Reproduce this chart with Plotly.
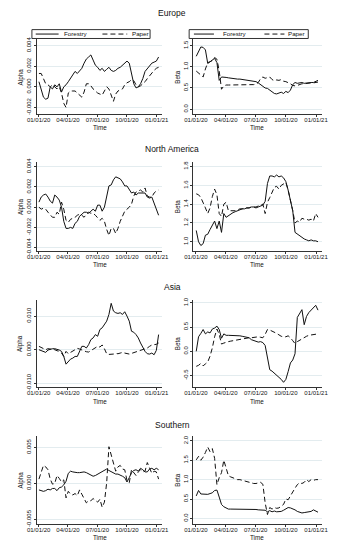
import pandas as pd
import plotly.graph_objects as go

# ---------------- data (weekly readings, 2020-01-02 .. 2021-01-07) ----------------
dates = pd.date_range("2020-01-02", periods=54, freq="7D")

regions = ["Europe", "North America", "Asia", "Southern"]
series_names = ["Forestry", "Paper"]

eu_alpha_forestry = [0.0005, -0.0003, -0.0010, -0.0012, -0.0011, 0.0000, -0.0002, 0.0002, 0.0000, 0.0003,
                     -0.0005, 0.0000, 0.0002, 0.0005, 0.0008, 0.0011, 0.0015, 0.0013, 0.0016, 0.0018,
                     0.0023, 0.0027, 0.0029, 0.0031, 0.0026, 0.0021, 0.0019, 0.0016, 0.0018, 0.0015,
                     0.0017, 0.0019, 0.0016, 0.0015, 0.0016, 0.0018, 0.0019, 0.0021, 0.0023, 0.0025,
                     0.0023, 0.0013, 0.0003, -0.0001, 0.0000, 0.0003, 0.0008, 0.0015, 0.0018, 0.0021,
                     0.0023, 0.0024, 0.0025, 0.0029]
eu_alpha_paper = [0.0013, 0.0013, 0.0008, 0.0003, 0.0002, 0.0000, 0.0002, 0.0000, -0.0002, 0.0000,
                  -0.0006, -0.0016, -0.0020, -0.0006, -0.0004, -0.0004, -0.0004, -0.0006, -0.0008, -0.0010,
                  -0.0005, 0.0003, 0.0003, 0.0001, -0.0002, -0.0004, -0.0006, -0.0007, -0.0008, -0.0004,
                  0.0000, -0.0002, -0.0008, -0.0014, -0.0007, -0.0004, -0.0003, -0.0002, 0.0002, 0.0004,
                  0.0005, 0.0007, 0.0006, 0.0002, 0.0000, 0.0001, 0.0003, 0.0005, 0.0008, 0.0011,
                  0.0013, 0.0016, 0.0018, 0.0019]
eu_beta_forestry = [1.25, 1.35, 1.47, 1.46, 1.40, 1.08, 1.12, 1.15, 1.20, 1.10,
                    0.68, 0.76, 0.76, 0.75, 0.74, 0.73, 0.72, 0.72, 0.71, 0.71,
                    0.70, 0.70, 0.69, 0.68, 0.67, 0.66, 0.65, 0.62, 0.58, 0.53,
                    0.50, 0.49, 0.45, 0.40, 0.37, 0.36, 0.38, 0.40, 0.37, 0.42,
                    0.39, 0.45, 0.58, 0.63, 0.61, 0.62, 0.63, 0.61, 0.62, 0.63,
                    0.63, 0.63, 0.65, 0.68]
eu_beta_paper = [0.90, 0.85, 0.80, 0.76, 0.95, 1.10, 1.12, 1.15, 1.22, 1.18,
                 0.90, 0.47, 0.55, 0.57, 0.57, 0.57, 0.57, 0.57, 0.57, 0.57,
                 0.57, 0.57, 0.57, 0.57, 0.58, 0.58, 0.59, 0.63, 0.72, 0.76,
                 0.73, 0.74, 0.76, 0.70, 0.67, 0.69, 0.68, 0.70, 0.66, 0.65,
                 0.63, 0.60, 0.56, 0.55, 0.56, 0.58, 0.60, 0.60, 0.61, 0.62,
                 0.62, 0.62, 0.63, 0.64]

na_alpha_forestry = [0.0005, 0.0010, 0.0012, 0.0013, 0.0010, 0.0006, 0.0004, 0.0012, 0.0010, 0.0007,
                     0.0000, -0.0014, -0.0021, -0.0021, -0.0020, -0.0021, -0.0016, -0.0014, -0.0009, -0.0007,
                     -0.0005, -0.0005, -0.0006, -0.0004, -0.0002, -0.0004, 0.0002, 0.0002, -0.0004, 0.0000,
                     0.0011, 0.0021, 0.0022, 0.0027, 0.0030, 0.0029, 0.0028, 0.0025, 0.0021, 0.0021,
                     0.0018, 0.0014, 0.0015, 0.0012, 0.0014, 0.0014, 0.0014, 0.0014, 0.0010, 0.0009,
                     0.0010, 0.0004, -0.0002, -0.0008]
na_alpha_paper = [0.0000, -0.0002, -0.0001, -0.0002, -0.0005, -0.0008, -0.0010, -0.0010, -0.0005, -0.0007,
                  0.0005, -0.0002, -0.0013, -0.0015, -0.0012, -0.0011, -0.0010, -0.0008, -0.0007, -0.0008,
                  -0.0010, -0.0007, -0.0005, -0.0006, -0.0006, -0.0008, -0.0010, -0.0013, -0.0011, -0.0014,
                  -0.0022, -0.0028, -0.0021, -0.0021, -0.0026, -0.0021, -0.0014, -0.0008, -0.0004, -0.0002,
                  0.0000, 0.0003, 0.0011, 0.0015, 0.0016, 0.0017, 0.0015, 0.0019, 0.0011, 0.0010,
                  0.0010, 0.0014, 0.0016, 0.0017]
na_beta_forestry = [1.12, 1.00, 0.96, 0.98, 1.07, 1.08, 1.13, 1.17, 1.22, 1.14,
                    1.22, 1.10, 1.30, 1.26, 1.28, 1.30, 1.31, 1.32, 1.33, 1.34,
                    1.35, 1.35, 1.36, 1.36, 1.37, 1.37, 1.36, 1.37, 1.38, 1.39,
                    1.43, 1.62, 1.70, 1.70, 1.69, 1.71, 1.69, 1.70, 1.68, 1.64,
                    1.55, 1.45, 1.33, 1.10, 1.08, 1.06, 1.04, 1.03, 1.02, 1.01,
                    1.02, 1.01, 1.01, 1.00]
na_beta_paper = [1.51, 1.50, 1.47, 1.42, 1.36, 1.30, 1.36, 1.48, 1.56, 1.50,
                 1.30, 1.27, 1.40, 1.42, 1.33, 1.33, 1.33, 1.33, 1.34, 1.35,
                 1.35, 1.36, 1.36, 1.36, 1.37, 1.37, 1.37, 1.38, 1.39, 1.40,
                 1.30, 1.42, 1.47, 1.52, 1.58, 1.59, 1.56, 1.60, 1.62, 1.63,
                 1.55, 1.45, 1.33, 1.20, 1.22, 1.21, 1.25, 1.24, 1.24, 1.23,
                 1.24, 1.22, 1.30, 1.26]

as_alpha_forestry = [0.0000, -0.0003, -0.0006, -0.0008, -0.0001, 0.0002, 0.0003, 0.0003, 0.0002, -0.0001,
                     -0.0005, -0.0020, -0.0043, -0.0035, -0.0028, -0.0025, -0.0020, -0.0020, -0.0005, 0.0010,
                     0.0010, 0.0005, 0.0015, 0.0030, 0.0035, 0.0045, 0.0040, 0.0060, 0.0065, 0.0075,
                     0.0085, 0.0105, 0.0138, 0.0115, 0.0110, 0.0108, 0.0110, 0.0105, 0.0113, 0.0100,
                     0.0085, 0.0055, 0.0052, 0.0045, 0.0035, 0.0020, 0.0005, -0.0005, -0.0012, -0.0013,
                     -0.0010, -0.0015, -0.0002, 0.0045]
as_alpha_paper = [0.0010, 0.0007, 0.0005, 0.0000, 0.0003, 0.0002, 0.0002, 0.0000, -0.0003, -0.0005,
                  -0.0010, -0.0020, -0.0005, -0.0012, -0.0008, -0.0004, -0.0001, 0.0004, 0.0002, -0.0001,
                  -0.0004, -0.0006, -0.0007, -0.0003, 0.0000, 0.0006, 0.0010, 0.0008, 0.0014, 0.0003,
                  -0.0012, -0.0014, -0.0014, -0.0013, -0.0011, -0.0012, -0.0010, -0.0008, -0.0010, -0.0012,
                  -0.0013, -0.0011, -0.0009, -0.0006, -0.0005, -0.0003, -0.0001, 0.0003, 0.0005, 0.0010,
                  0.0014, 0.0015, 0.0016, 0.0020]
as_beta_forestry = [0.00, 0.30, 0.37, 0.45, 0.36, 0.40, 0.38, 0.46, 0.48, 0.52,
                    0.45, 0.27, 0.36, 0.33, 0.33, 0.33, 0.33, 0.32, 0.32, 0.32,
                    0.31, 0.30, 0.29, 0.28, 0.24, 0.22, 0.20, 0.19, 0.20, 0.18,
                    0.12, -0.18, -0.38, -0.41, -0.45, -0.48, -0.53, -0.58, -0.64, -0.58,
                    -0.42, -0.24, -0.18, -0.05, 0.70, 0.78, 0.86, 0.55, 0.72, 0.80,
                    0.85, 0.90, 0.95, 0.85]
as_beta_paper = [-0.31, -0.29, -0.25, -0.30, -0.26, -0.22, -0.10, 0.07, 0.30, 0.46,
                 0.35, 0.15, 0.17, 0.19, 0.20, 0.21, 0.22, 0.23, 0.24, 0.25,
                 0.26, 0.27, 0.27, 0.28, 0.28, 0.29, 0.30, 0.30, 0.29, 0.28,
                 0.35, 0.45, 0.44, 0.42, 0.40, 0.37, 0.34, 0.31, 0.30, 0.30,
                 0.32, 0.28, 0.22, 0.16, 0.20, 0.23, 0.26, 0.29, 0.31, 0.33,
                 0.34, 0.35, 0.36, 0.36]

so_alpha_forestry = [-0.0009, -0.0010, -0.0011, -0.0010, -0.0008, -0.0009, -0.0007, -0.0007, -0.0010, -0.0006,
                     -0.0005, -0.0002, 0.0003, 0.0014, 0.0017, 0.0016, 0.0015, 0.0015, 0.0015, 0.0016,
                     0.0016, 0.0015, 0.0013, 0.0012, 0.0010, 0.0011, 0.0013, 0.0014, 0.0016, 0.0019,
                     0.0020, 0.0018, 0.0016, 0.0014, 0.0013, 0.0013, 0.0012, 0.0010, 0.0008, 0.0002,
                     0.0008, 0.0015, 0.0018, 0.0019, 0.0017, 0.0021, 0.0019, 0.0016, 0.0016, 0.0020,
                     0.0021, 0.0019, 0.0021, 0.0019]
so_alpha_paper = [0.0006, 0.0016, 0.0025, 0.0023, 0.0019, 0.0006, -0.0001, 0.0000, 0.0011, 0.0007,
                  0.0002, 0.0005, -0.0020, -0.0011, -0.0015, -0.0016, -0.0014, -0.0017, -0.0009, -0.0015,
                  -0.0022, -0.0027, -0.0024, -0.0024, -0.0021, -0.0024, -0.0026, -0.0022, -0.0033, -0.0026,
                  0.0001, 0.0051, 0.0039, 0.0029, 0.0017, 0.0023, 0.0025, 0.0020, 0.0019, 0.0004,
                  0.0001, 0.0019, 0.0015, 0.0011, 0.0016, 0.0019, 0.0016, 0.0017, 0.0029, 0.0020,
                  0.0014, 0.0017, 0.0016, 0.0006]
so_beta_forestry = [0.58, 0.72, 0.63, 0.63, 0.62, 0.62, 0.64, 0.66, 0.72, 0.73,
                    0.55, 0.36, 0.30, 0.26, 0.24, 0.24, 0.24, 0.24, 0.24, 0.23,
                    0.23, 0.23, 0.23, 0.23, 0.23, 0.23, 0.23, 0.22, 0.22, 0.22,
                    0.21, 0.17, 0.20, 0.17, 0.19, 0.17, 0.18, 0.18, 0.21, 0.25,
                    0.28, 0.27, 0.25, 0.22, 0.18, 0.15, 0.14, 0.15, 0.16, 0.17,
                    0.18, 0.22, 0.19, 0.16]
so_beta_paper = [1.51, 1.60, 1.50, 1.58, 1.70, 1.84, 1.72, 1.80, 1.55, 0.87,
                 1.05, 1.18, 1.50, 1.30, 1.10, 1.07, 1.04, 1.01, 1.00, 1.00,
                 0.98, 0.96, 0.94, 0.92, 0.91, 0.90, 0.90, 0.91, 0.93, 0.88,
                 0.40, 0.10, 0.28, 0.24, 0.28, 0.26, 0.27, 0.32, 0.36, 0.50,
                 0.48, 0.58, 0.70, 0.78, 0.87, 0.92, 0.90, 0.93, 1.00, 0.95,
                 1.00, 0.98, 1.00, 1.00]

alpha_data = [(eu_alpha_forestry, eu_alpha_paper), (na_alpha_forestry, na_alpha_paper),
              (as_alpha_forestry, as_alpha_paper), (so_alpha_forestry, so_alpha_paper)]
beta_data = [(eu_beta_forestry, eu_beta_paper), (na_beta_forestry, na_beta_paper),
             (as_beta_forestry, as_beta_paper), (so_beta_forestry, so_beta_paper)]

x_tick_dates = ["2020-01-01", "2020-04-01", "2020-07-01", "2020-10-01", "2021-01-01"]
x_tick_labels = ["01/01/20", "04/01/20", "07/01/20", "10/01/20", "01/01/21"]

alpha_ticks = [[-0.002, 0.0, 0.002, 0.004],
               [-0.004, -0.002, 0.0, 0.002, 0.004],
               [-0.010, 0.0, 0.010],
               [-0.005, 0.0, 0.005]]
alpha_ticklabels = [["-0.002", "0.000", "0.002", "0.004"],
                    ["-0.004", "-0.002", "0.000", "0.002", "0.004"],
                    ["-0.010", "0.000", "0.010"],
                    ["-0.005", "0.000", "0.005"]]
beta_ticks = [[0.0, 0.5, 1.0, 1.5],
              [1.0, 1.2, 1.4, 1.6, 1.8],
              [-0.5, 0.0, 0.5, 1.0],
              [0.0, 0.5, 1.0, 1.5, 2.0]]
beta_ticklabels = [["0.0", "0.5", "1.0", "1.5"],
                   ["1.0", "1.2", "1.4", "1.6", "1.8"],
                   ["-0.5", "0.0", "0.5", "1.0"],
                   ["0.0", "0.5", "1.0", "1.5", "2.0"]]

# ---------------- layout geometry ----------------
W, H = 340, 550
row_tops = [36, 160, 300, 438]
row_bottoms = [112, 251, 389, 528]
title_y = [9, 147, 287, 427]
time_y = [125, 264, 403, 541]
left_x = (28, 160)
right_x = (192, 327)
alpha_ranges = [[-0.00267, 0.0046], [-0.00437, 0.0045], [-0.0112, 0.0149], [-0.00568, 0.00664]]
beta_ranges = [[-0.124, 1.647], [0.898, 1.852], [-0.744, 1.067], [-0.153, 2.135]]
left_xrange = ["2019-12-26", "2021-01-19"]
right_xrange = ["2019-12-23", "2021-01-18"]

FONT = "Liberation Sans, Arial, sans-serif"
TICK = 6
LABEL = 6.3
AXC = "#333333"
GRID = "#e3ecef"
INK = "#111111"


def dom_x(a, b):
    return [a / W, b / W]


def dom_y(top, bottom):
    return [1 - bottom / H, 1 - top / H]


def px(x):
    return x / W


def py(y):
    return 1 - y / H


fig = go.Figure()
layout = dict(
    width=W, height=H,
    margin=dict(l=0, r=0, t=0, b=0),
    paper_bgcolor="white", plot_bgcolor="white",
    font=dict(family=FONT, size=TICK, color=INK),
    showlegend=False,
    annotations=[],
    shapes=[],
)

solid = dict(color=INK, width=1)
dashed = dict(color=INK, width=1, dash="5px,3px")
line_styles = [solid, dashed]

for r in range(4):
    for c in range(2):
        k = r * 2 + c + 1
        xa = "x" if k == 1 else f"x{k}"
        ya = "y" if k == 1 else f"y{k}"
        data = alpha_data[r] if c == 0 else beta_data[r]
        for s, vals in enumerate(data):
            fig.add_trace(go.Scatter(
                x=dates, y=vals, mode="lines", line=line_styles[s], name=series_names[s],
                xaxis=xa, yaxis=ya, hoverinfo="skip"))
        xdom = left_x if c == 0 else right_x
        layout["xaxis" if k == 1 else f"xaxis{k}"] = dict(
            domain=dom_x(*xdom), anchor=ya,
            range=left_xrange if c == 0 else right_xrange,
            tickvals=x_tick_dates, ticktext=x_tick_labels, tickangle=0,
            showline=True, linecolor=AXC, linewidth=1, mirror=False,
            ticks="outside", ticklen=2, tickcolor=AXC, tickwidth=1,
            ticklabelstandoff=-3,
            tickfont=dict(size=TICK, family=FONT, color=INK),
            showgrid=False, zeroline=False, fixedrange=True)
        layout["yaxis" if k == 1 else f"yaxis{k}"] = dict(
            domain=dom_y(row_tops[r], row_bottoms[r]), anchor=xa,
            range=alpha_ranges[r] if c == 0 else beta_ranges[r],
            tickvals=alpha_ticks[r] if c == 0 else beta_ticks[r],
            ticktext=alpha_ticklabels[r] if c == 0 else beta_ticklabels[r],
            tickangle=-90,
            showline=True, linecolor=AXC, linewidth=1,
            ticks="outside", ticklen=2, tickcolor=AXC, tickwidth=1,
            tickfont=dict(size=TICK, family=FONT, color=INK),
            showgrid=True, gridcolor=GRID, gridwidth=1, zeroline=False, fixedrange=True)
        mid_y = (row_tops[r] + row_bottoms[r]) / 2
        layout["annotations"].append(dict(
            text="Alpha" if c == 0 else "Beta", textangle=-90,
            x=px(11 if c == 0 else 176), y=py(mid_y), xref="paper", yref="paper",
            showarrow=False, font=dict(size=LABEL, family=FONT, color=INK),
            xanchor="center", yanchor="middle"))
        layout["annotations"].append(dict(
            text="Time", x=px((xdom[0] + xdom[1]) / 2), y=py(time_y[r]),
            xref="paper", yref="paper", showarrow=False,
            font=dict(size=LABEL, family=FONT, color=INK),
            xanchor="center", yanchor="middle"))
    layout["annotations"].append(dict(
        text=regions[r], x=0.5, y=py(title_y[r]), xref="paper", yref="paper",
        showarrow=False, font=dict(size=8.5, family=FONT, color=INK),
        xanchor="center", yanchor="middle"))

# legend boxes (Europe panels only)
legend_boxes = [
    dict(box=(23, 147), items=[(27, 51, 55), (97, 123, 126)]),
    dict(box=(188, 313), items=[(193, 214, 221), (267, 288, 290)]),
]
leg_top, leg_bot, leg_mid = 26, 35, 30.5
for lb in legend_boxes:
    x0, x1 = lb["box"]
    layout["shapes"].append(dict(type="rect", xref="paper", yref="paper",
                                 x0=px(x0), x1=px(x1), y0=py(leg_bot), y1=py(leg_top),
                                 line=dict(color=AXC, width=1), fillcolor="white"))
    for s, (lx0, lx1, tx) in enumerate(lb["items"]):
        layout["shapes"].append(dict(type="line", xref="paper", yref="paper",
                                     x0=px(lx0), x1=px(lx1), y0=py(leg_mid), y1=py(leg_mid),
                                     line=line_styles[s]))
        layout["annotations"].append(dict(
            text=series_names[s], x=px(tx), y=py(leg_mid - 0.5), xref="paper", yref="paper",
            showarrow=False, font=dict(size=6.2, family=FONT, color=INK),
            xanchor="left", yanchor="middle"))

fig.update_layout(**layout)
fig.write_html("out.html", config={"displayModeBar": False},
               post_script="document.body.style.margin='0';document.body.style.overflow='hidden';")
